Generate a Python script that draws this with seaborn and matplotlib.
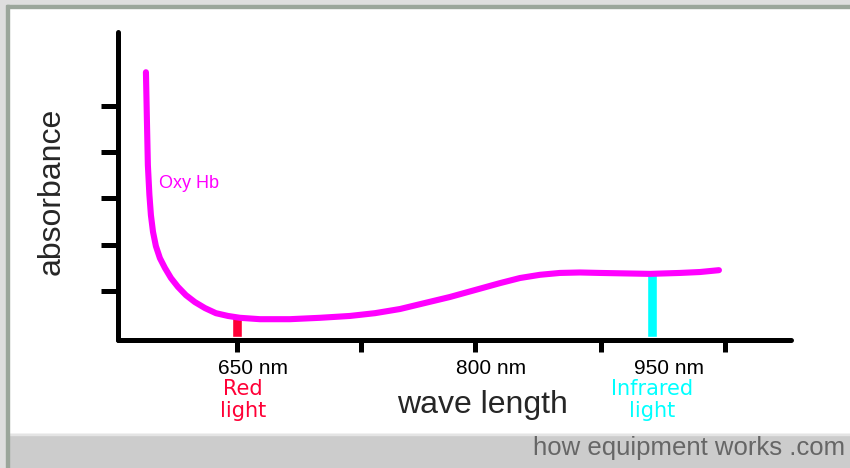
import matplotlib
matplotlib.use('Agg')
import matplotlib.pyplot as plt
import seaborn as sns
from matplotlib.patches import Rectangle

# Oxy Hb absorbance curve (schematic)
wavelength_nm = [584.2, 584.9, 585.6, 586.7, 587.8, 589.3, 591.4, 594.3, 597.9,
                 602.3, 607.3, 613.1, 619.6, 626.9, 634.8, 643.5, 652.2, 666.6,
                 688.3, 710.0, 731.7, 749.8, 767.9, 785.9, 804.0, 822.1, 840.2,
                 854.6, 869.1, 883.5, 898.0, 912.5, 930.5, 948.6, 970.3, 984.8,
                 998.5]
absorbance = [5.73, 4.70, 3.72, 3.08, 2.64, 2.28, 1.97, 1.71, 1.50,
              1.28, 1.09, 0.91, 0.76, 0.63, 0.52, 0.46, 0.42, 0.39,
              0.39, 0.42, 0.46, 0.52, 0.61, 0.74, 0.87, 1.02, 1.17,
              1.28, 1.35, 1.39, 1.40, 1.39, 1.38, 1.37, 1.39, 1.41,
              1.45]

# light sources
red_nm, red_abs = 650, 0.43
ir_nm, ir_abs = 950, 1.37

x_ticks = [650, 740, 822, 913, 1003]
y_ticks = [1, 2, 3, 4, 5]
tick_labels = ['650 nm', '800 nm', '950 nm']
tick_label_x = [661.6, 833.7, 962.4]

MAGENTA = '#ff00ff'
RED = '#ff0036'
CYAN = '#00ffff'

sns.set_style('white')
plt.rcParams['font.family'] = ['Liberation Sans', 'DejaVu Sans']

fig = plt.figure(figsize=(8.5, 4.68), dpi=100)
fig.patch.set_facecolor('white')

# page decoration: grey frame and footer band
fig.patches.append(Rectangle((0, 0), 1, 34 / 468, transform=fig.transFigure,
                             color='#cccccc', zorder=0))
fig.patches.append(Rectangle((0, 33 / 468), 1, 1.5 / 468, transform=fig.transFigure,
                             color='#e4e4e4', zorder=0))
fig.patches.append(Rectangle((0, 1 - 5 / 468), 1, 5 / 468, transform=fig.transFigure,
                             color='#dedede', zorder=0))
fig.patches.append(Rectangle((0, 1 - 7.5 / 468), 1, 2.5 / 468, transform=fig.transFigure,
                             color='#9ba69b', zorder=0))
fig.patches.append(Rectangle((0, 0), 6 / 850, 1, transform=fig.transFigure,
                             color='#dedede', zorder=0))
fig.patches.append(Rectangle((6 / 850, 0), 2.5 / 850, 1 - 5 / 468, transform=fig.transFigure,
                             color='#9ba69b', zorder=0))

ax = fig.add_axes([118 / 850, 128 / 468, 673 / 850, 308 / 468])
ax.set_facecolor('none')

# light bars under the curve
ax.bar([red_nm], [red_abs], width=7.3, color=RED, zorder=2)
ax.bar([ir_nm], [ir_abs], width=7.3, color=CYAN, zorder=2)

sns.lineplot(x=wavelength_nm, y=absorbance, sort=False, estimator=None,
             color=MAGENTA, linewidth=4.4, solid_capstyle='round',
             solid_joinstyle='round', ax=ax, zorder=3)

ax.set_xlim(564.0, 1050.6)
ax.set_ylim(-0.06, 6.6)
ax.set_xticks(x_ticks)
ax.set_yticks(y_ticks)
ax.tick_params(axis='y', direction='out', length=12, width=3.6, color='black',
               labelleft=False, left=True)
ax.tick_params(axis='x', direction='out', length=8.6, width=3.6, color='black',
               labelbottom=False, bottom=True)

sns.despine(ax=ax)
for side in ['left', 'bottom']:
    ax.spines[side].set_linewidth(3.6)
    ax.spines[side].set_color('black')
    ax.spines[side].set_capstyle('round')

# tick labels sit a little right of the tick marks
for lx, lab in zip(tick_label_x, tick_labels):
    ax.text(lx, -0.795, lab, ha='center', va='baseline', fontsize=15,
            color='black', clip_on=False)

# multi-line baseline = last line
ax.text(654.3, -1.725, 'Red\nlight', ha='center', va='baseline', fontsize=15,
        family='DejaVu Sans', color=RED, linespacing=1.15, clip_on=False)
ax.text(950.1, -1.725, 'Infrared\nlight', ha='center', va='baseline', fontsize=15,
        family='DejaVu Sans', color=CYAN, linespacing=1.15, clip_on=False)

ax.text(593.6, 3.226, 'Oxy Hb', ha='left', va='baseline', fontsize=13,
        color=MAGENTA)

ax.set_xlabel('wave length', fontsize=23, va='baseline')
ax.xaxis.set_label_coords(0.541, -0.237)
ax.set_ylabel('absorbance', fontsize=23, va='baseline')
ax.yaxis.set_label_coords(-0.086, 0.484)

fig.text(845 / 850, 1 - 455 / 468, 'how equipment works .com', ha='right',
         va='baseline', fontsize=18.5, color='#666666')

fig.savefig('out.png', dpi=100)
